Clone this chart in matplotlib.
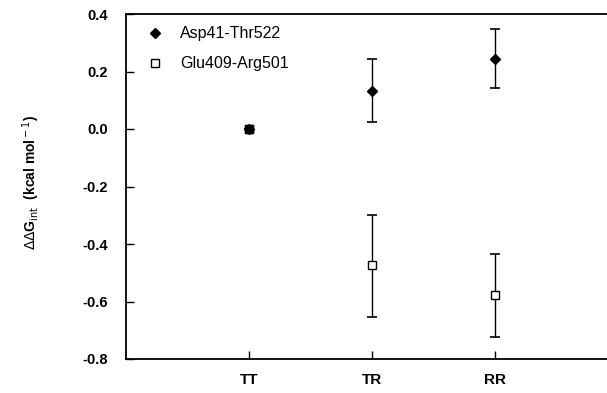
import matplotlib
matplotlib.use("Agg")
import matplotlib.pyplot as plt
from matplotlib.lines import Line2D

categories = ["TT", "TR", "RR"]
asp_vals = [0.0, 0.133, 0.245]
asp_err_lo = [0.0, 0.108, 0.101]
asp_err_hi = [0.0, 0.109, 0.102]
glu_vals = [0.0, -0.474, -0.579]
glu_err_lo = [0.0, 0.179, 0.144]
glu_err_hi = [0.0, 0.176, 0.144]
yticks = [0.4, 0.2, 0.0, -0.2, -0.4, -0.6, -0.8]

plt.rcParams['font.family'] = ['Liberation Sans', 'DejaVu Sans']

fig = plt.figure(figsize=(6.07, 3.93), dpi=100)
ax = fig.add_axes([126/607, 1-359/393, 1-126/607, (359-14)/393])

x = [1, 2, 3]
ax.errorbar(x, asp_vals, yerr=[asp_err_lo, asp_err_hi], fmt='D', color='black',
            markersize=5.5, capsize=3.5, elinewidth=1, capthick=1.2, zorder=3)
ax.errorbar(x, glu_vals, yerr=[glu_err_lo, glu_err_hi], fmt='s', color='black',
            mfc='white', markersize=6, capsize=3.5, elinewidth=1, capthick=1.2, zorder=3)
# TT point appears filled
ax.plot([1], [glu_vals[0]], 's', color='black', markersize=6, zorder=4)

ax.set_xlim(0, 481/123)
ax.set_ylim(-0.8, 0.4)
ax.set_yticks(yticks)
ax.set_yticklabels([f"{v:.1f}" for v in yticks], fontsize=10.5, fontweight='bold')
ax.set_xticks(x)
ax.set_xticklabels(categories, fontsize=11, fontweight='bold')
ax.tick_params(axis='both', direction='in', length=6, width=1)
ax.tick_params(axis='x', pad=10)
ax.tick_params(axis='y', pad=13)
ax.spines['right'].set_visible(False)
for s in ['left', 'bottom', 'top']:
    ax.spines[s].set_linewidth(1.3)

ax.set_ylabel(r'$\Delta\Delta$G$_{\rm int}$  (kcal mol$^{\rm -1}$)', fontsize=10,
              fontweight='bold')
ax.yaxis.set_label_coords(-0.175, 0.513)

handles = [Line2D([], [], marker='D', color='black', linestyle='none', markersize=5.5),
           Line2D([], [], marker='s', color='black', mfc='white', linestyle='none', markersize=6)]
leg = ax.legend(handles, ['Asp41-Thr522', 'Glu409-Arg501'], loc='upper left',
                bbox_to_anchor=(0.01, 1.006), frameon=False, fontsize=11.5,
                handletextpad=1.0, labelspacing=0.95, handlelength=1.2)

fig.savefig('out.png', dpi=100)
